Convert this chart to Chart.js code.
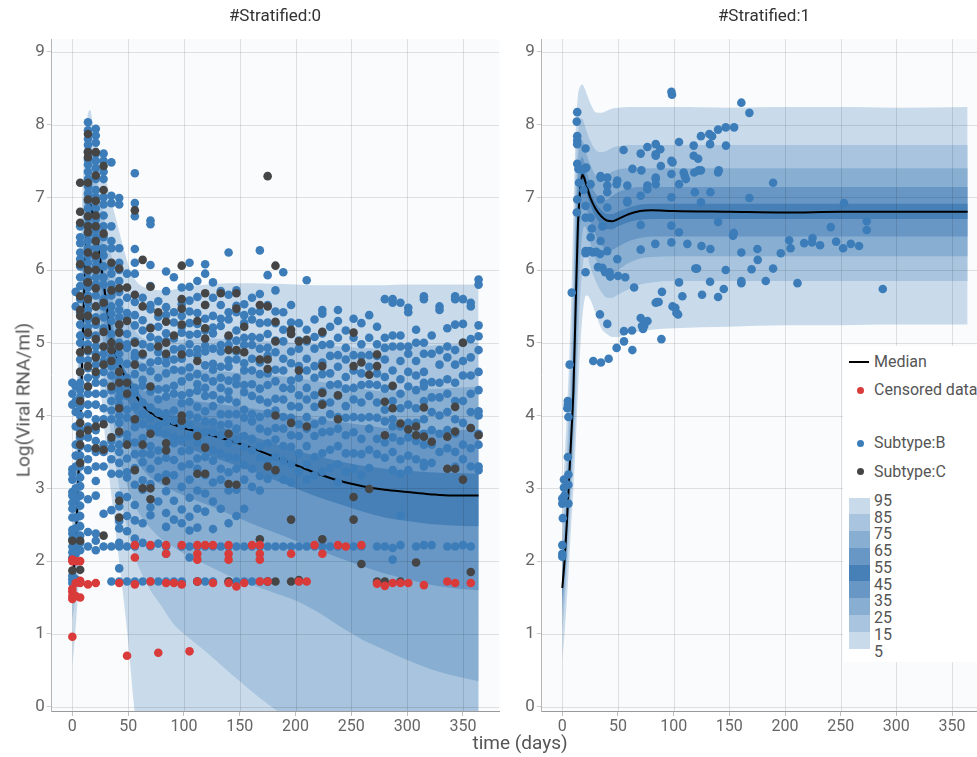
<!DOCTYPE html>
<html>
<head>
<meta charset="utf-8">
<title>Viral load VPC</title>
<script src="https://cdn.jsdelivr.net/npm/chart.js@4.4.1/dist/chart.umd.min.js"></script>
<style>
  html, body { margin: 0; padding: 0; background: #fff; overflow: hidden; }
  body { width: 977px; height: 757px; position: relative; font-family: Roboto, "Noto Sans", sans-serif; }
  canvas { position: absolute; top: 0; }
  #chart0 { left: 0; }
  #chart1 { left: 490px; }
  .title { position: absolute; top: 5px; font-size: 17px; color: #333; transform: translateX(-50%); white-space: nowrap; }
  .axisTitle { position: absolute; font-size: 19px; color: #555; white-space: nowrap; }
  #xTitle { left: 520px; top: 731px; transform: translateX(-50%); }
  #yTitle { left: 23px; top: 400px; transform: translate(-50%, -50%) rotate(-90deg); }
  #legend { position: absolute; left: 843px; top: 346px; width: 160px; height: 316px; background: #fff; font-size: 16px; color: #555; }
  #legend .row { position: absolute; left: 31px; height: 20px; line-height: 20px; transform: translateY(-50%); white-space: nowrap; }
  #legend .mark { position: absolute; }
</style>
</head>
<body>
<canvas id="chart0" width="505" height="757"></canvas>
<canvas id="chart1" width="505" height="757"></canvas>
<div class="title" style="left:275px">#Stratified:0</div>
<div class="title" style="left:764px">#Stratified:1</div>
<div class="axisTitle" id="xTitle">time (days)</div>
<div class="axisTitle" id="yTitle">Log(Viral RNA/ml)</div>
<div id="legend"></div>
<script>
// ---- axis ticks ----
const dayTicks = [0, 50, 100, 150, 200, 250, 300, 350];
const logTicks = [0, 1, 2, 3, 4, 5, 6, 7, 8, 9];
const percentileLabels = ['95', '85', '75', '65', '55', '45', '35', '25', '15', '5'];

// band colours, outer (5-95) to inner (45-55)
const bandColors = ['#c9dbeb', '#a8c4de', '#88afd2', '#6897c5', '#4780b6'];
const colorB = '#3c7db9';
const colorC = '#454545';
const colorCensored = '#d93a3a';

// ---- #Stratified:0 prediction percentiles ----
const timesL = [0, 2, 4, 6, 8, 10, 12, 14, 16, 18, 20, 25, 30, 35, 40, 45, 50, 55, 60, 70, 80, 90, 100, 120, 140, 160, 180, 200, 220, 240, 260, 280, 300, 320, 340, 364];
const p95L = [2.6, 3.3, 4.3, 5.5, 6.6, 7.4, 7.9, 8.15, 8.2, 8.05, 7.85, 7.6, 7.25, 6.95, 6.65, 6.35, 6.08, 5.9, 5.8, 5.74, 5.72, 5.73, 5.76, 5.8, 5.82, 5.82, 5.81, 5.8, 5.79, 5.79, 5.79, 5.79, 5.8, 5.8, 5.8, 5.8];
const p85L = [2.2, 2.9, 3.8, 4.9, 5.9, 6.9, 7.45, 7.7, 7.72, 7.6, 7.4, 7.0, 6.6, 6.2, 5.85, 5.55, 5.35, 5.2, 5.1, 5.02, 5.0, 5.02, 5.05, 5.06, 5.05, 5.04, 5.02, 5.0, 4.98, 4.95, 4.93, 4.92, 4.94, 4.96, 4.98, 5.0];
const p75L = [2.0, 2.6, 3.4, 4.4, 5.4, 6.5, 7.1, 7.35, 7.38, 7.25, 7.05, 6.6, 6.15, 5.7, 5.3, 5.05, 4.9, 4.8, 4.75, 4.7, 4.68, 4.66, 4.65, 4.62, 4.6, 4.57, 4.55, 4.52, 4.47, 4.42, 4.37, 4.33, 4.34, 4.36, 4.38, 4.4];
const p65L = [1.8, 2.4, 3.1, 4.1, 5.0, 6.1, 6.85, 7.15, 7.18, 7.05, 6.85, 6.35, 5.85, 5.35, 4.95, 4.7, 4.55, 4.45, 4.38, 4.3, 4.26, 4.24, 4.22, 4.18, 4.14, 4.1, 4.05, 4.0, 3.95, 3.91, 3.87, 3.83, 3.81, 3.8, 3.8, 3.8];
const p55L = [1.68, 2.2, 2.8, 3.7, 4.6, 5.7, 6.55, 6.98, 7.02, 6.9, 6.7, 6.25, 5.7, 5.2, 4.9, 4.7, 4.55, 4.42, 4.3, 4.15, 4.07, 4.01, 3.97, 3.89, 3.81, 3.72, 3.62, 3.52, 3.44, 3.37, 3.31, 3.27, 3.24, 3.22, 3.21, 3.2];
const medianL = [1.63, 2.05, 2.6, 3.4, 4.3, 5.4, 6.3, 6.8, 6.9, 6.8, 6.6, 6.14, 5.6, 5.05, 4.8, 4.6, 4.45, 4.33, 4.2, 4.04, 3.95, 3.88, 3.83, 3.75, 3.66, 3.56, 3.44, 3.32, 3.2, 3.1, 3.03, 2.98, 2.95, 2.92, 2.9, 2.9];
const p45L = [1.58, 1.9, 2.4, 3.1, 4.1, 5.3, 6.15, 6.6, 6.75, 6.65, 6.45, 5.95, 5.4, 4.85, 4.55, 4.35, 4.2, 4.05, 3.93, 3.78, 3.7, 3.63, 3.57, 3.46, 3.35, 3.24, 3.12, 3.0, 2.88, 2.78, 2.68, 2.6, 2.55, 2.51, 2.49, 2.48];
const p35L = [1.5, 1.75, 2.2, 2.8, 3.85, 5.2, 5.95, 6.35, 6.5, 6.4, 6.2, 5.7, 5.1, 4.5, 4.1, 3.85, 3.65, 3.45, 3.32, 3.15, 3.05, 2.97, 2.9, 2.78, 2.65, 2.52, 2.4, 2.28, 2.16, 2.04, 1.93, 1.83, 1.75, 1.68, 1.63, 1.6];
const p25L = [1.4, 1.6, 2.0, 2.5, 3.6, 5.0, 5.65, 6.05, 6.2, 6.1, 5.9, 5.35, 4.7, 4.1, 3.6, 3.25, 3.0, 2.8, 2.65, 2.45, 2.3, 2.2, 2.1, 1.95, 1.8, 1.68, 1.57, 1.46, 1.3, 1.1, 0.92, 0.78, 0.64, 0.52, 0.43, 0.35];
const p15L = [1.2, 1.4, 1.75, 2.2, 3.3, 4.75, 5.35, 5.65, 5.8, 5.7, 5.45, 4.9, 4.3, 3.7, 3.2, 2.75, 2.4, 2.1, 1.9, 1.6, 1.38, 1.15, 1.0, 0.75, 0.48, 0.22, -0.02, -0.22, -0.42, -0.6, -0.78, -0.95, -1.1, -1.25, -1.4, -1.55];
const p5L = [0.55, 0.9, 1.3, 1.8, 2.8, 4.3, 4.9, 5.1, 5.15, 5.05, 4.9, 4.4, 3.6, 2.9, 2.25, 1.6, 0.9, 0.05, -0.6, -1.5, -2.2, -2.8, -3.3, -4.0, -4.5, -5.0, -5.4, -5.8, -6.0, -6.2, -6.4, -6.6, -6.8, -7.0, -7.2, -7.5];

// ---- #Stratified:1 prediction percentiles ----
const timesR = [0, 2, 4, 6, 8, 10, 12, 14, 16, 18, 20, 22, 25, 30, 35, 40, 45, 50, 60, 70, 80, 100, 150, 200, 250, 300, 364];
const p95R = [2.8, 3.4, 4.0, 4.7, 5.6, 6.8, 7.9, 8.4, 8.52, 8.55, 8.5, 8.42, 8.3, 8.17, 8.16, 8.19, 8.22, 8.23, 8.24, 8.24, 8.24, 8.24, 8.23, 8.24, 8.24, 8.23, 8.24];
const p85R = [2.35, 2.85, 3.45, 4.1, 4.9, 5.9, 7.35, 7.85, 8.05, 8.08, 8.0, 7.9, 7.78, 7.65, 7.62, 7.64, 7.68, 7.7, 7.72, 7.72, 7.72, 7.72, 7.72, 7.72, 7.72, 7.72, 7.72];
const p75R = [2.05, 2.5, 3.05, 3.7, 4.4, 5.3, 6.8, 7.5, 7.75, 7.78, 7.7, 7.58, 7.45, 7.3, 7.27, 7.3, 7.35, 7.38, 7.4, 7.4, 7.4, 7.4, 7.4, 7.4, 7.4, 7.4, 7.4];
const p65R = [1.85, 2.25, 2.78, 3.4, 4.05, 4.85, 6.3, 7.2, 7.5, 7.55, 7.47, 7.35, 7.2, 7.05, 6.98, 6.97, 7.02, 7.07, 7.12, 7.14, 7.14, 7.14, 7.14, 7.14, 7.14, 7.14, 7.14];
const p55R = [1.7, 2.08, 2.58, 3.2, 3.8, 4.5, 5.75, 6.85, 7.25, 7.38, 7.33, 7.22, 7.08, 6.92, 6.82, 6.77, 6.77, 6.8, 6.86, 6.9, 6.91, 6.91, 6.91, 6.91, 6.91, 6.91, 6.91];
const medianR = [1.63, 2.0, 2.5, 3.1, 3.7, 4.35, 5.5, 6.6, 7.1, 7.31, 7.25, 7.15, 7.0, 6.84, 6.74, 6.68, 6.67, 6.7, 6.77, 6.81, 6.82, 6.81, 6.8, 6.79, 6.8, 6.8, 6.8];
const p45R = [1.57, 1.94, 2.43, 3.0, 3.62, 4.22, 5.25, 6.35, 6.95, 7.18, 7.15, 7.05, 6.9, 6.73, 6.62, 6.56, 6.56, 6.6, 6.66, 6.69, 6.7, 6.7, 6.7, 6.7, 6.7, 6.7, 6.7];
const p35R = [1.45, 1.82, 2.3, 2.85, 3.45, 4.0, 4.9, 5.95, 6.6, 6.9, 6.92, 6.83, 6.68, 6.48, 6.35, 6.28, 6.28, 6.32, 6.4, 6.44, 6.46, 6.46, 6.46, 6.46, 6.46, 6.46, 6.46];
const p25R = [1.3, 1.65, 2.1, 2.65, 3.2, 3.75, 4.5, 5.5, 6.15, 6.5, 6.6, 6.55, 6.38, 6.15, 6.0, 5.94, 5.95, 6.0, 6.1, 6.16, 6.18, 6.19, 6.19, 6.19, 6.19, 6.19, 6.19];
const p15R = [1.05, 1.4, 1.85, 2.35, 2.9, 3.45, 4.0, 4.9, 5.6, 6.0, 6.2, 6.2, 6.05, 5.85, 5.7, 5.62, 5.62, 5.66, 5.74, 5.8, 5.83, 5.85, 5.85, 5.85, 5.85, 5.85, 5.85];
const p5R = [0.62, 1.0, 1.45, 1.95, 2.5, 3.0, 3.6, 4.3, 4.9, 5.35, 5.6, 5.65, 5.6, 5.4, 5.2, 5.12, 5.08, 5.08, 5.13, 5.16, 5.18, 5.2, 5.22, 5.24, 5.24, 5.25, 5.25];

// ---- #Stratified:0 observations, one row per visit: [day, values...] ----
const subtypeB0 = [
  [0, 4.45, 4.3, 4.15, 3.26, 3.2, 3.12, 2.95, 2.9, 2.8, 2.72, 2.6, 2.43, 2.38, 2.3, 2.2, 2.12, 2.05, 1.8, 1.75, 1.7],
  [3, 5.7, 5.5, 4.4, 4.2, 4.05, 3.85, 3.6, 3.45, 3.3, 3.0, 2.85, 2.6, 2.45, 2.3, 2.2, 2.1, 1.75, 1.72],
  [7, 6.6, 6.45, 6.37, 6.24, 6.15, 6.05, 5.9, 5.78, 5.6, 5.42, 5.25, 5.1, 5.0, 4.77, 4.6, 4.45, 4.35, 4.25, 4.13, 4.0, 3.81, 3.7, 3.58, 3.45, 3.3, 3.15, 3.03, 2.9, 2.76, 2.62, 2.48, 2.35, 2.25, 2.15, 1.72],
  [14, 8.03, 7.92, 7.8, 7.72, 7.63, 7.52, 7.45, 7.35, 7.25, 7.15, 7.05, 6.95, 6.85, 6.72, 6.62, 6.5, 6.4, 6.3, 6.2, 6.1, 5.98, 5.88, 5.76, 5.65, 5.55, 5.45, 5.32, 5.22, 5.1, 4.98, 4.88, 4.76, 4.65, 4.52, 4.4, 4.3, 4.15, 4.02, 3.85, 3.7, 3.55, 3.4, 3.25, 2.85, 2.4, 2.2],
  [21, 7.94, 7.85, 7.75, 7.6, 7.5, 7.4, 7.25, 7.1, 7.0, 6.85, 6.7, 6.55, 6.45, 6.3, 6.15, 6.05, 5.9, 5.8, 5.65, 5.5, 5.35, 5.25, 5.1, 4.95, 4.85, 4.7, 4.55, 4.45, 4.3, 4.15, 3.95, 3.8, 3.65, 3.5, 3.3, 3.1, 2.9, 2.38, 2.28, 2.15],
  [28, 7.6, 7.5, 7.35, 7.25, 7.0, 6.9, 6.75, 6.6, 6.45, 6.3, 6.2, 6.05, 5.9, 5.8, 5.6, 5.5, 5.35, 5.2, 4.85, 4.75, 4.6, 4.45, 4.3, 4.1, 3.95, 3.6, 3.5, 3.3, 2.65, 2.2],
  [35, 7.48, 7.02, 6.92, 6.6, 6.4, 6.3, 6.05, 5.95, 5.8, 5.65, 5.5, 5.4, 5.3, 5.12, 4.95, 4.8, 4.68, 4.55, 4.35, 4.2, 4.07, 3.95, 3.65, 3.55, 3.4, 3.2, 2.7, 2.2, 1.72],
  [42, 6.99, 6.9, 6.3, 6.1, 6.0, 5.85, 5.7, 5.55, 5.45, 5.35, 5.25, 5.15, 5.0, 4.85, 4.75, 4.6, 4.5, 4.35, 4.25, 4.15, 4.0, 3.9, 3.75, 3.6, 3.5, 3.35, 3.2, 2.9, 2.75, 2.55, 2.45, 2.25, 2.2, 1.9, 1.72],
  [49, 5.95, 5.62, 5.41, 5.33, 5.12, 4.98, 4.93, 4.71, 4.52, 4.44, 4.27, 4.08, 3.97, 3.74, 3.66, 3.41, 3.22, 3.15, 2.88, 2.62, 2.41, 2.2, 1.72],
  [56, 7.33, 6.92, 6.74, 6.29, 6.1, 5.95, 5.56, 5.38, 5.24, 5.02, 4.86, 4.8, 4.57, 4.38, 4.31, 4.12, 3.92, 3.84, 3.63, 3.47, 3.28, 3.05, 2.77, 2.56, 2.31, 2.2, 1.72],
  [63, 5.62, 5.31, 5.17, 4.98, 4.83, 4.66, 4.49, 4.41, 4.18, 4.02, 3.88, 3.69, 3.48, 3.36, 3.11, 2.98, 2.52, 2.25, 1.72],
  [70, 6.68, 6.63, 6.07, 5.78, 5.52, 5.46, 5.21, 5.08, 4.94, 4.73, 4.61, 4.39, 4.33, 4.11, 3.96, 3.82, 3.58, 3.47, 3.27, 3.06, 2.74, 2.63, 2.2, 1.72],
  [77, 5.57, 5.36, 5.22, 5.04, 4.87, 4.75, 4.52, 4.36, 4.22, 4.04, 3.86, 3.77, 3.52, 3.38, 3.15, 2.82, 2.24, 1.72],
  [84, 5.98, 5.71, 5.49, 5.38, 5.13, 5.02, 4.81, 4.72, 4.58, 4.37, 4.26, 4.03, 3.91, 3.76, 3.54, 3.42, 3.19, 2.96, 2.66, 2.47, 2.2, 2.1, 1.72],
  [91, 5.9, 5.42, 5.28, 5.06, 4.91, 4.77, 4.63, 4.41, 4.3, 4.07, 3.93, 3.71, 3.62, 3.39, 3.18, 2.83, 2.57, 1.72],
  [98, 5.76, 5.53, 5.37, 5.22, 5.14, 4.92, 4.78, 4.62, 4.47, 4.28, 4.17, 3.98, 3.86, 3.67, 3.51, 3.3, 3.02, 2.71, 2.52, 2.2, 1.72],
  [105, 6.1, 5.77, 5.58, 5.43, 5.27, 5.11, 4.98, 4.86, 4.66, 4.53, 4.31, 4.19, 4.01, 3.87, 3.72, 3.52, 3.33, 3.12, 2.87, 2.61, 2.42, 2.2, 2.05],
  [112, 5.85, 5.63, 5.41, 5.26, 5.12, 4.91, 4.83, 4.57, 4.43, 4.34, 4.12, 3.97, 3.78, 3.63, 3.41, 3.27, 2.97, 2.72, 2.46, 2.2, 1.72],
  [119, 6.08, 5.95, 5.52, 5.33, 5.17, 4.96, 4.88, 4.69, 4.52, 4.38, 4.27, 4.06, 3.92, 3.77, 3.57, 3.43, 3.18, 2.93, 2.68, 2.2, 1.72],
  [126, 5.83, 5.62, 5.37, 5.21, 5.13, 4.92, 4.71, 4.63, 4.47, 4.28, 4.13, 3.91, 3.77, 3.52, 3.38, 3.08, 2.82, 2.44, 2.2, 1.72],
  [133, 5.71, 5.52, 5.33, 5.23, 4.97, 4.88, 4.67, 4.52, 4.38, 4.22, 4.02, 3.87, 3.73, 3.48, 3.27, 3.12, 2.72, 2.2],
  [140, 6.24, 5.66, 5.42, 5.32, 5.08, 4.97, 4.76, 4.67, 4.48, 4.33, 4.23, 4.02, 3.88, 3.62, 3.43, 3.22, 2.97, 2.52, 2.2, 1.72],
  [147, 5.72, 5.51, 5.42, 5.17, 5.03, 4.88, 4.77, 4.52, 4.43, 4.18, 4.02, 3.82, 3.67, 3.42, 3.27, 2.98, 2.62, 2.2, 1.72],
  [154, 5.53, 5.38, 5.27, 5.07, 4.97, 4.72, 4.62, 4.42, 4.32, 4.08, 3.97, 3.72, 3.57, 3.32, 3.12, 2.72, 2.2, 1.72],
  [161, 5.62, 5.43, 5.32, 5.08, 4.97, 4.78, 4.62, 4.43, 4.27, 4.02, 3.92, 3.68, 3.52, 3.27, 3.02, 2.2, 1.72],
  [168, 6.27, 5.67, 5.43, 5.27, 5.07, 4.92, 4.73, 4.57, 4.37, 4.22, 3.98, 3.82, 3.58, 3.42, 3.17, 2.97, 2.2, 1.72],
  [175, 5.93, 5.52, 5.28, 5.12, 4.93, 4.82, 4.58, 4.42, 4.18, 4.03, 3.78, 3.62, 3.38, 3.13, 2.2, 1.72],
  [182, 5.72, 5.43, 5.27, 5.03, 4.87, 4.63, 4.47, 4.23, 4.07, 3.83, 3.67, 3.43, 3.22, 2.2],
  [189, 5.97, 5.42, 5.18, 5.02, 4.78, 4.62, 4.38, 4.22, 3.98, 3.82, 3.58, 3.38, 3.12, 2.2],
  [196, 5.52, 5.28, 5.12, 4.88, 4.72, 4.48, 4.37, 4.13, 3.97, 3.73, 3.57, 3.33, 3.08, 2.2],
  [203, 5.27, 5.03, 4.92, 4.68, 4.52, 4.28, 4.12, 3.88, 3.72, 3.48, 3.23, 2.2, 1.72],
  [210, 5.86, 5.18, 5.02, 4.78, 4.62, 4.38, 4.22, 3.98, 3.82, 3.58, 3.33, 3.12, 2.2],
  [217, 5.32, 5.08, 4.92, 4.68, 4.52, 4.28, 4.12, 3.88, 3.72, 3.43, 3.18, 2.2],
  [224, 5.45, 5.4, 5.13, 4.97, 4.73, 4.57, 4.33, 4.17, 3.93, 3.77, 3.48, 3.23, 2.2],
  [231, 5.22, 4.98, 4.82, 4.58, 4.42, 4.18, 4.02, 3.78, 3.53, 3.28, 2.2],
  [238, 5.45, 5.3, 5.07, 4.83, 4.67, 4.43, 4.27, 3.98, 3.82, 3.58, 3.33, 3.08, 2.2],
  [245, 5.17, 4.93, 4.77, 4.53, 4.37, 4.13, 3.97, 3.73, 3.48, 3.23],
  [252, 5.33, 5.07, 4.83, 4.62, 4.38, 4.22, 3.98, 3.77, 3.48, 3.27, 2.2],
  [259, 5.27, 4.98, 4.82, 4.58, 4.42, 4.18, 3.97, 3.68, 3.47, 3.18, 2.2],
  [266, 5.38, 5.07, 4.83, 4.67, 4.43, 4.27, 3.98, 3.82, 3.53, 3.28],
  [273, 5.22, 4.98, 4.82, 4.58, 4.42, 4.18, 3.97, 3.68, 3.47, 2.2],
  [280, 5.6, 5.07, 4.93, 4.77, 4.53, 4.37, 4.08, 3.92, 3.63, 3.42, 2.2],
  [287, 5.6, 5.55, 5.1, 4.95, 4.62, 4.4, 4.2, 3.95, 3.85, 3.7, 3.5, 3.25, 2.18, 2.02],
  [294, 5.55, 5.1, 4.95, 4.75, 4.5, 4.3, 4.1, 3.85, 3.65, 3.4, 3.2, 2.63, 2.22],
  [301, 5.48, 5.42, 4.95, 4.85, 4.6, 4.4, 4.15, 3.9, 3.7, 3.45, 3.25],
  [308, 5.18, 5.0, 4.75, 4.55, 4.35, 4.1, 3.9, 3.65, 3.4, 2.2],
  [315, 5.64, 5.6, 5.0, 4.85, 4.6, 4.45, 4.4, 4.2, 3.95, 3.75, 3.6, 3.35, 3.3, 2.22],
  [322, 5.1, 4.85, 4.46, 4.25, 4.05, 3.8, 3.6, 3.35, 2.22],
  [329, 5.5, 5.45, 4.9, 4.7, 4.45, 4.25, 4.0, 3.75, 3.5],
  [336, 5.2, 4.95, 4.8, 4.5, 4.3, 4.05, 3.8, 3.55, 2.2],
  [343, 5.64, 5.6, 5.25, 4.9, 4.7, 4.45, 4.2, 3.95, 3.75, 3.5, 3.3, 2.2],
  [350, 5.6, 5.26, 5.0, 4.75, 4.55, 4.2, 3.9, 3.6, 3.4, 2.22],
  [357, 5.55, 5.5, 5.05, 4.8, 4.55, 4.3, 4.05, 3.83, 3.55, 3.3, 2.2],
  [364, 5.87, 5.8, 5.24, 5.09, 4.9, 4.6, 4.35, 4.06, 4.0, 3.75, 3.6, 3.3, 3.25]
];

const subtypeC0 = [
  [0, 2.28, 1.87],
  [7, 7.2, 6.8, 6.65, 6.08, 5.64, 5.45, 5.37, 4.87, 4.6, 4.2, 3.9, 3.75, 3.6, 3.35, 2.28, 1.88],
  [14, 7.87, 7.62, 7.55, 7.2, 6.97, 6.74, 6.6, 6.52, 6.24, 6.0, 5.83, 5.6, 5.37, 5.14, 4.9, 4.68, 4.4, 3.8],
  [21, 7.62, 7.3, 6.95, 6.75, 6.6, 6.4, 6.2, 6.0, 5.75, 5.5, 5.3, 5.05, 4.8, 4.6, 3.85, 3.55],
  [28, 7.43, 7.1, 6.5, 5.55, 5.15, 4.95, 4.7, 3.88, 3.53, 2.35],
  [35, 6.1, 5.72, 5.0, 4.9, 4.75, 4.4, 3.7],
  [42, 6.02, 5.75, 5.25, 5.14, 4.95, 4.6, 4.45, 4.1, 3.78, 2.83, 2.6],
  [49, 5.76, 5.3, 4.45, 4.3, 3.6],
  [56, 6.82, 5.66, 5.0, 4.7, 3.95, 3.25],
  [63, 6.14, 5.5, 4.85, 3.6, 3.0],
  [70, 5.77, 5.2, 4.4, 3.75, 3.0, 2.85],
  [77, 5.42, 4.95],
  [84, 5.29, 5.0, 4.85, 3.62, 3.52, 3.1],
  [91, 5.1],
  [98, 6.06, 5.6, 5.47, 5.25, 4.84, 4.0, 3.93],
  [112, 5.3, 4.75, 3.72, 3.2, 1.72],
  [119, 5.68, 5.52, 5.2, 5.06, 3.56, 3.2],
  [133, 5.68],
  [140, 5.1, 4.9, 3.75, 3.06, 1.72],
  [147, 5.68, 5.47, 4.9, 3.05],
  [154, 5.22, 4.87],
  [168, 5.52, 4.77, 2.3],
  [175, 7.29, 5.5, 4.77, 4.64, 3.3, 1.72],
  [182, 6.06, 5.29, 5.02, 4.0, 3.25, 1.72],
  [196, 5.18, 5.12, 3.9, 2.57, 1.72],
  [203, 5.02, 4.62, 1.74],
  [210, 5.04, 3.85],
  [224, 5.15, 4.68, 4.31, 4.15, 2.3],
  [238, 4.28, 3.95],
  [252, 5.14, 4.68, 2.88, 2.57],
  [259, 4.73, 1.96],
  [266, 4.56, 2.99],
  [273, 4.84, 4.68, 1.72],
  [280, 4.19, 3.73, 1.72],
  [287, 4.41, 4.1],
  [294, 3.89, 1.72],
  [301, 3.81],
  [308, 3.85, 3.73, 1.98],
  [315, 4.11, 3.71],
  [322, 3.64],
  [336, 3.71, 3.27],
  [343, 4.12, 3.78, 3.27],
  [350, 5.0, 3.12],
  [357, 3.83, 1.85],
  [364, 3.73]
];

const censored0 = [
  [0, 2.02, 2.0, 1.62, 1.58, 1.52, 1.48, 0.96],
  [3, 2.0, 1.7, 1.52],
  [7, 2.0, 1.73, 1.7, 1.5],
  [14, 1.68], [21, 1.7], [42, 1.7], [49, 0.7],
  [56, 2.22, 2.05, 1.68], [70, 2.22, 1.72], [77, 0.74],
  [84, 2.22, 2.1, 1.7], [91, 1.7], [98, 2.22, 1.68], [105, 0.76],
  [112, 2.22, 2.1, 2.02, 1.72], [119, 2.22], [126, 2.22, 1.7],
  [140, 2.22, 2.1, 2.02, 1.7], [147, 1.65], [154, 1.7], [161, 2.22],
  [168, 2.22, 2.1, 2.02, 1.72], [175, 1.72], [196, 2.1], [203, 1.72],
  [210, 1.72], [217, 2.22], [224, 2.1], [238, 2.22], [245, 2.2],
  [259, 2.22], [273, 1.69], [280, 1.66], [287, 1.7], [294, 1.7], [301, 1.7],
  [315, 1.67], [336, 1.72], [343, 1.7], [357, 1.7]
];

// ---- #Stratified:1 observations: [day, value] ----
const subtypeB1 = [
  [0, 2.86], [0, 2.79], [0.5, 2.59], [0, 2.22], [0, 2.1], [0, 2.06], [1.5, 3.12], [1.5, 3.01], [2, 2.9],
  [5, 4.2], [5, 4.15], [5.5, 3.98], [4.5, 4.1], [5, 3.43], [5.5, 3.19], [5.5, 3.05], [5.5, 2.79],
  [8.5, 5.69], [6.6, 4.7],
  [13.4, 8.17], [13, 8.04], [13.4, 7.84], [13.4, 7.78], [13.4, 7.73], [13.4, 7.46], [14.5, 7.39], [13.4, 6.97], [13, 6.79], [15, 7.2],
  [20.9, 7.67], [20.9, 7.4], [21.5, 7.41], [17.5, 7.38], [20.9, 6.88], [20.9, 6.72], [20.9, 6.26], [20.9, 6.23], [20.9, 5.97], [19, 7.1],
  [25.4, 7.18], [25.4, 6.72], [26.5, 6.57], [27.5, 6.24], [27.8, 4.75], [25.5, 6.45], [24.5, 6.26],
  [34.4, 7.29], [34.4, 7.27], [34.4, 6.97], [34.4, 6.4], [34, 6.22], [34.7, 4.73], [33.8, 5.39], [36, 6.03], [30.5, 6.25], [36, 6.6], [32, 6.04],
  [40.4, 7.27], [40.4, 7.16], [40.4, 7.07], [40.4, 6.86], [40.4, 6.26], [41.6, 4.78], [40.4, 5.26], [42.5, 5.97], [38.5, 5.97], [43, 5.91],
  [48.8, 4.93], [49.4, 7.23], [48.8, 7.18], [49.4, 6.15], [50, 5.92], [55.4, 5.02], [55.4, 5.16], [56.5, 5.9],
  [58.4, 7.16], [58.4, 6.95], [58.4, 6.93], [55, 7.65],
  [62.9, 4.9], [62.6, 5.17], [64.5, 5.76], [63, 7.39],
  [70.4, 7.6], [70.4, 7.02], [70.4, 6.62], [70.4, 6.28], [71, 7.37], [70.4, 5.34], [71.5, 5.23], [72.5, 5.19], [73.5, 5.23], [74.5, 5.28], [76.5, 5.3],
  [76.4, 7.16], [76.4, 7.11], [76.4, 7.69],
  [83.9, 7.57], [83.9, 7.59], [83.9, 7.73], [83.9, 7.27], [83.9, 7.25], [83.9, 7.18], [83.5, 6.36], [83.9, 5.55], [85, 5.56], [86.5, 5.56],
  [88, 7.66], [88.5, 7.43], [89, 5.05], [89.5, 5.7],
  [98, 8.45], [98.5, 8.41], [98, 7.32], [98, 7.5], [99, 7.48], [98, 7.0], [98, 6.61], [98, 6.38], [99, 5.5], [101.5, 5.48], [102.5, 5.41], [104, 5.39],
  [104.8, 7.76], [104.8, 7.18], [104.8, 6.52], [104.8, 5.83], [107.8, 5.64],
  [109, 7.34], [110, 7.29], [111, 7.25], [112.3, 6.36],
  [118, 7.71], [118, 7.57], [118.5, 7.34], [119, 7.07], [119.5, 6.02], [121, 6.02],
  [122, 7.53], [122.5, 7.37], [124.5, 7.84], [124.5, 7.37], [124.5, 6.93], [125, 6.33], [125.5, 5.66],
  [132, 7.87], [132.7, 7.73], [133, 7.07], [133, 6.29], [132.7, 5.84], [134.5, 7.84],
  [139.9, 7.93], [139.9, 7.34], [140.5, 7.37], [139.9, 5.63], [139.9, 6.66],
  [146.8, 7.96], [147, 7.71], [146.8, 6.0], [145, 5.74],
  [154.3, 7.96], [153.3, 6.47], [154, 6.51],
  [160.8, 8.3], [160.8, 6.24], [160.8, 5.85], [160.8, 5.82],
  [168, 8.16], [168, 6.99], [170, 6.01],
  [175.2, 6.29], [175.5, 6.14], [182.7, 5.85], [189.3, 7.2], [189.3, 6.02], [196.2, 6.23],
  [203.7, 6.41], [205, 6.3], [211.2, 5.82], [217.2, 6.37], [224.7, 6.44], [224.3, 6.38],
  [231.5, 6.34], [241.1, 6.59], [245.9, 6.39], [252.2, 6.3], [253, 6.92], [259.1, 6.36],
  [266.5, 6.33], [273.4, 6.55], [273.4, 6.67], [287.8, 5.74]
];

function columnsToPoints(rows) {
  const pts = [];
  rows.forEach(function(row) {
    for (let i = 1; i < row.length; i++) {
      pts.push({x: row[0], y: row[i]});
    }
  });
  return pts;
}

function pairsToPoints(pairs) {
  return pairs.map(function(p) { return {x: p[0], y: p[1]}; });
}

function zip(times, values) {
  return times.map(function(t, i) { return {x: t, y: values[i]}; });
}

function pointSet(label, points, color, order) {
  return {
    label: label,
    data: points,
    showLine: false,
    pointRadius: 4.3,
    pointHoverRadius: 4.3,
    pointBorderWidth: 0,
    pointBackgroundColor: color,
    pointBorderColor: color,
    order: order
  };
}

// lower/upper pairs for each percentile band, innermost first
function bandSets(times, pairs) {
  const sets = [];
  pairs.forEach(function(pair, i) {
    const common = {
      pointRadius: 0,
      borderWidth: 0,
      borderColor: 'rgba(0,0,0,0)',
      cubicInterpolationMode: 'monotone',
      order: 4 + i
    };
    sets.push(Object.assign({data: zip(times, pair[0]), fill: false}, common));
    sets.push(Object.assign({data: zip(times, pair[1]), fill: '-1',
      backgroundColor: bandColors[bandColors.length - 1 - i]}, common));
  });
  return sets;
}

// plot background, plus grid lines repainted over the bands before the median and points
const plotBackground = {
  id: 'plotBackground',
  beforeDraw(chart) {
    const a = chart.chartArea;
    const ctx = chart.ctx;
    ctx.save();
    ctx.fillStyle = '#fafbfd';
    ctx.fillRect(a.left, a.top, a.right - a.left, a.bottom - a.top);
    ctx.restore();
  },
  beforeDatasetDraw(chart, args) {
    if (!chart.data.datasets[args.index].isMedian) return;
    const a = chart.chartArea;
    const ctx = chart.ctx;
    ctx.save();
    ctx.strokeStyle = 'rgba(0,0,0,0.11)';
    ctx.lineWidth = 1;
    ctx.beginPath();
    dayTicks.forEach(function(v) {
      const x = Math.round(chart.scales.x.getPixelForValue(v)) + 0.5;
      ctx.moveTo(x, a.top);
      ctx.lineTo(x, a.bottom);
    });
    logTicks.forEach(function(v) {
      const y = Math.round(chart.scales.y.getPixelForValue(v)) + 0.5;
      ctx.moveTo(a.left, y);
      ctx.lineTo(a.right, y);
    });
    ctx.stroke();
    ctx.restore();
  }
};

function makeChart(canvasId, times, median, pairs, scatterSets) {
  const datasets = scatterSets.concat([{
    data: zip(times, median),
    isMedian: true,
    borderColor: '#000',
    borderWidth: 2,
    pointRadius: 0,
    fill: false,
    cubicInterpolationMode: 'monotone',
    order: 3
  }]).concat(bandSets(times, pairs));

  return new Chart(document.getElementById(canvasId), {
    type: 'line',
    data: {datasets: datasets},
    plugins: [plotBackground],
    options: {
      responsive: false,
      animation: false,
      events: [],
      layout: {padding: {top: 39, left: 0, right: canvasId === 'chart0' ? 6 : 7, bottom: 16}},
      plugins: {legend: {display: false}, tooltip: {enabled: false}, title: {display: false}},
      scales: {
        x: {
          type: 'linear',
          min: -18.5,
          max: 382.3,
          afterBuildTicks: function(s) { s.ticks = dayTicks.map(function(v) { return {value: v}; }); },
          afterFit: function(s) { s.height = 30; },
          grid: {drawOnChartArea: false, tickLength: 5, tickColor: 'rgba(0,0,0,0.25)'},
          border: {color: '#9a9a9a', width: 1},
          ticks: {color: '#666', font: {size: 16}, padding: 1, maxRotation: 0}
        },
        y: {
          type: 'linear',
          min: -0.06,
          max: 9.175,
          afterBuildTicks: function(s) { s.ticks = logTicks.map(function(v) { return {value: v}; }); },
          afterFit: function(s) { s.width = 51.7; },
          grid: {drawOnChartArea: false, tickLength: 5, tickColor: 'rgba(0,0,0,0.2)'},
          border: {color: '#b5b5b5', width: 1},
          ticks: {color: '#666', font: {size: 17}, padding: 2}
        }
      }
    }
  });
}

Chart.defaults.font.family = 'Roboto, "Noto Sans", sans-serif';

makeChart('chart0', timesL, medianL,
  [[p45L, p55L], [p35L, p65L], [p25L, p75L], [p15L, p85L], [p5L, p95L]],
  [pointSet('Censored data', columnsToPoints(censored0), colorCensored, 0),
   pointSet('Subtype:C', columnsToPoints(subtypeC0), colorC, 1),
   pointSet('Subtype:B', columnsToPoints(subtypeB0), colorB, 2)]);

makeChart('chart1', timesR, medianR,
  [[p45R, p55R], [p35R, p65R], [p25R, p75R], [p15R, p85R], [p5R, p95R]],
  [pointSet('Subtype:B', pairsToPoints(subtypeB1), colorB, 2)]);

// ---- legend ----
const legend = document.getElementById('legend');
function addRow(top, text) {
  const d = document.createElement('div');
  d.className = 'row';
  d.style.top = top + 'px';
  d.textContent = text;
  legend.appendChild(d);
}
function addMark(css) {
  const d = document.createElement('div');
  d.className = 'mark';
  Object.assign(d.style, css);
  legend.appendChild(d);
}
const ox = 843, oy = 346;
addMark({left: (849 - ox) + 'px', top: (361 - oy) + 'px', width: '20px', height: '2px', background: '#000'});
addRow(362 - oy, 'Median');
const dots = [[390, colorCensored, 'Censored data'], [443, colorB, 'Subtype:B'], [471.5, colorC, 'Subtype:C']];
dots.forEach(function(d) {
  addMark({left: (856.5 - ox) + 'px', top: (d[0] - 3.5 - oy) + 'px', width: '7px', height: '7px', borderRadius: '50%', background: d[1]});
  addRow(d[0] - oy, d[2]);
});
const swatchOrder = [0, 1, 2, 3, 4, 3, 2, 1, 0];
swatchOrder.forEach(function(c, i) {
  addMark({left: (849 - ox) + 'px', top: (497.7 + i * 16.74 - oy) + 'px', width: '20.5px', height: '16.9px', background: bandColors[c]});
});
percentileLabels.forEach(function(lab, i) {
  addRow(501 + i * 16.74 - oy, lab);
});
</script>
</body>
</html>
